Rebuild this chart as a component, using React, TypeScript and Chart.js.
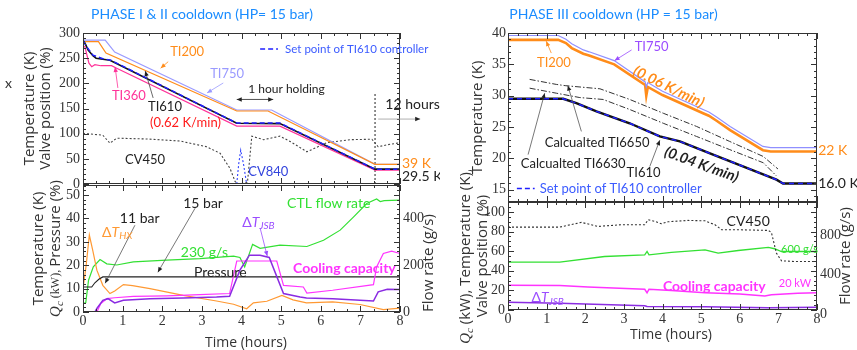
import React, { useEffect, useRef } from "react";
import { Chart, registerables } from "chart.js";
Chart.register(...registerables);

// ================= DATA =================
// Panel A : Phase I & II (temperature K / valve %)
const A_TI750_T = [0, 0.56, 0.8, 3.88, 4.76, 7.37, 8];
const A_TI750_V = [286, 286, 262, 147, 147, 39, 39];
const A_TI200_T = [0, 0.39, 0.58, 3.88, 4.67, 7.37, 8];
const A_TI200_V = [283, 283, 260, 145, 145, 39, 39];
const A_TI610_T = [0, 0.05, 0.13, 0.25, 0.33, 0.5, 0.68, 3.88, 4.97, 7.37, 8];
const A_TI610_V = [285, 280, 266, 255, 250, 248, 246, 120.6, 120, 29.5, 29.5];
const A_SP_T = [0, 0.1, 0.25, 0.5, 0.7, 3.88, 4.97, 7.37, 8];
const A_SP_V = [285, 272, 256, 249, 246, 121, 121, 29.5, 29.5];
const A_TI360_T = [0, 0.05, 0.15, 0.22, 0.3, 0.45, 0.72, 0.85, 3.88, 4.97, 7.37, 8];
const A_TI360_V = [275, 272, 240, 233, 237, 235, 235, 230, 115, 115, 27.5, 27.5];
const A_CV450_T = [0, 0.5, 0.68, 0.85, 1.6, 2.45, 3.12, 3.46, 3.71, 3.84, 3.92, 4.15, 4.26, 4.56, 4.97, 5.24, 5.65, 6.15, 6.74, 7.29, 7.45, 7.68, 8];
const A_CV450_V = [100.7, 97, 81, 91, 89.5, 85.4, 74, 61, 31, 4.6, 0, 3, 95, 88, 95, 84, 64, 82, 88, 89, 74, 78, 82];
const A_CV840_T = [3.88, 3.93, 3.98, 4.05, 4.13];
const A_CV840_V = [0, 40, 67, 40, 0];
const A_MARK_T = [7.37, 7.37];
const A_MARK_V = [0, 183];
const A_YTICKS = [0, 50, 100, 150, 200, 250, 300];

// Panel B : Phase I & II (dT, Qc, pressure / flow)
const B_P_T = [0, 0.22, 0.3, 0.4, 0.5, 8];
const B_P_V = [10.7, 10.7, 12.5, 14, 15, 15];
const B_HX_T = [0, 0.08, 0.16, 0.25, 0.35, 0.5, 0.68, 0.8, 1.02, 1.25, 1.69, 2.53, 3.37, 3.8, 4.13, 4.3, 4.64, 5.02, 5.3, 5.64, 6.3, 6.99, 7.58, 8];
const B_HX_V = [10, 20, 32.9, 26, 17.9, 11.4, 7.9, 9, 11.7, 11.3, 10, 7.1, 4.7, 3.3, 1.4, 3.9, 4.6, 7.1, 5.2, 3.9, 4.3, 3.2, 1.0, 1.7];
const B_FLOW_T = [0, 0.07, 0.14, 0.26, 0.43, 0.6, 0.85, 1.27, 2.11, 2.95, 3.8, 3.96, 4.08, 4.28, 4.47, 4.97, 5.65, 6.07, 6.49, 6.83, 7.16, 7.41, 7.5, 7.6, 8];
const B_FLOW_V = [36, 40, 136, 193, 224, 206, 201, 214, 222, 228, 239, 233, 193, 289, 272, 286, 280, 307, 350, 407, 464, 483, 472, 476, 478];
const B_JSB_T = [0, 0.3, 0.35, 0.5, 0.63, 0.8, 1.02, 1.69, 2.53, 3.37, 3.7, 3.96, 4.2, 4.47, 4.7, 5.06, 5.48, 5.64, 6.3, 7.33, 7.45, 7.68, 8];
const B_JSB_V = [0, 0, 1.5, 5, 5.7, 3.9, 5, 5.7, 6, 6.4, 6.7, 17.9, 24.3, 24.3, 23.3, 7.9, 6.4, 6, 5.7, 4.7, 8.6, 9.7, 9.6];
const B_QC_T = [0, 0.35, 0.45, 0.6, 0.8, 1.27, 2.11, 2.95, 3.7, 3.88, 4.89, 5.06, 5.56, 5.65, 6.3, 7.33, 7.41, 7.58, 7.79, 8];
const B_QC_V = [0, 0, 3.6, 5.7, 6.1, 6.7, 6.9, 7.4, 7.9, 21.8, 21.8, 11.4, 10.7, 8.1, 9.3, 11.7, 19.3, 25, 26, 25];
const B_YTICKS = [0, 10, 20, 30, 40, 50];
const B_Y2TICKS = [0, 200, 400];

// Panel C : Phase III temperatures
const C_TI750_T = [0, 1.3, 1.5, 1.65, 1.95, 2.1, 2.75, 3.55, 3.58, 3.62, 4.0, 5.05, 5.2, 5.4, 5.75, 6.6, 6.8, 8];
const C_TI750_V = [39.6, 39.6, 39.0, 38.3, 37.3, 37.0, 35.6, 32.2, 31.4, 32.1, 30.7, 27.8, 27.4, 26.6, 25.1, 21.9, 21.7, 21.7];
const C_TI200_T = [0, 1.3, 1.5, 1.65, 1.95, 2.1, 2.75, 3.55, 3.58, 3.62, 4.0, 5.05, 5.2, 5.4, 5.75, 6.6, 6.8, 8];
const C_TI200_V = [38.9, 38.9, 38.4, 37.6, 36.7, 36.4, 35.0, 31.7, 30.0, 31.4, 30.1, 27.2, 26.8, 26.0, 24.5, 21.3, 21.1, 21.1];
const C_TI610_T = [0, 1.43, 1.77, 2.29, 3.15, 3.93, 4.45, 5.31, 6.18, 6.95, 7.12, 8];
const C_TI610_V = [29.5, 29.5, 28.8, 27.5, 25.6, 23.5, 22.7, 20.6, 18.5, 16.6, 16.0, 16.0];
const C_SP_T = [0, 1.43, 1.77, 2.29, 3.15, 3.93, 4.45, 5.31, 6.18, 6.95, 7.12, 8];
const C_SP_V = [29.5, 29.5, 28.8, 27.5, 25.6, 23.5, 22.7, 20.6, 18.5, 16.6, 16.0, 16.0];
const C_T6650_T = [0.56, 1.25, 1.48, 2.38, 3.15, 4.02, 4.88, 5.74, 6.61, 6.99];
const C_T6650_V = [32.6, 31.8, 31.6, 31.1, 29.4, 27.2, 25.1, 22.7, 20.3, 18.3];
const C_T6630_T = [0.56, 1.25, 1.86, 2.46, 3.15, 4.02, 4.88, 5.74, 6.61, 6.95];
const C_T6630_V = [31.2, 30.4, 29.7, 29.4, 27.8, 25.6, 23.5, 21.4, 19.3, 17.2];
const C_YTICKS = [15, 20, 25, 30, 35, 40];

// Panel D : Phase III valve / Qc / dT / flow
const D_CV450_T = [0, 1.34, 1.9, 2.33, 2.94, 3.54, 3.63, 3.8, 3.97, 4.14, 4.66, 5.1, 5.36, 5.53, 5.96, 6.74, 6.82, 6.95, 7.08, 7.43, 8];
const D_CV450_V = [84.6, 84.6, 89.4, 85.3, 87, 87, 92.1, 90.5, 88, 90, 91.4, 91, 87, 81.9, 81.9, 81.2, 79, 58, 50.2, 49.5, 49.5];
const D_FLOW_T = [0, 1.34, 2.5, 3.54, 3.6, 3.65, 4.23, 5.1, 5.44, 5.96, 6.74, 6.9, 7.08, 8];
const D_FLOW_V = [488, 488, 546, 563, 597, 563, 587, 614, 580, 607, 638, 625, 597, 597];
const D_QC_T = [0, 1.34, 2.07, 3.54, 3.6, 3.65, 4.23, 5.1, 6.0, 6.65, 6.82, 7.5, 8];
const D_QC_V = [25.3, 25, 23.5, 21.2, 17.5, 21.2, 19.8, 17.7, 16.2, 14.3, 15.5, 17.2, 17.7];
const D_JSB_T = [0, 1.34, 3.54, 3.6, 5.1, 6.74, 8];
const D_JSB_V = [7.8, 6.8, 4.4, 3.5, 3.4, 2.4, 2.7];
const D_YTICKS = [0, 20, 40, 60, 80, 100];
const D_Y2TICKS = [0, 400, 800];

const X_TICKS = [0, 1, 2, 3, 4, 5, 6, 7, 8];

// ================= STYLE =================
const SERIF = '"Liberation Serif", "DejaVu Serif", serif';
const SANS = 'Lato, "Liberation Sans", sans-serif';
const TSANS = '"Open Sans", "Noto Sans", sans-serif';
const TITLE_BLUE = "#1a8cff";
const ORANGE = "#ff8c1a";
const LAV = "#9a9aff";
const PINK = "#ff3399";
const RED = "#ff1a1a";
const SP_BLUE = "#1f1fff";
const TXT_BLUE = "#3b5bff";
const GREEN = "#33e033";
const PURPLE = "#8a2be2";
const PURPLE_T = "#9b4dff";
const MAGENTA = "#ff33ff";
const INK = "#222";

Chart.defaults.font.family = SERIF;
Chart.defaults.font.size = 14;

type Seg = { s: string; f: string; dy?: number };
function rich(ctx: any, segs: Seg[], x: number, y: number, color: string, align = "left", rot = 0) {
  ctx.save();
  ctx.translate(x, y);
  ctx.rotate(rot);
  ctx.fillStyle = color;
  ctx.textBaseline = "middle";
  ctx.textAlign = "left";
  let w = 0;
  for (const g of segs) { ctx.font = g.f; w += ctx.measureText(g.s).width; }
  let cx = align === "center" ? -w / 2 : align === "right" ? -w : 0;
  for (const g of segs) {
    ctx.font = g.f;
    ctx.fillText(g.s, cx, g.dy || 0);
    cx += ctx.measureText(g.s).width;
  }
  ctx.restore();
}
const T = (ctx: any, s: string, x: number, y: number, color: string, f: string, align = "left", rot = 0) =>
  rich(ctx, [{ s, f }], x, y, color, align, rot);

function arrow(ctx: any, x1: number, y1: number, x2: number, y2: number, color: string, head = color, both = false, lw = 0.8) {
  ctx.save();
  ctx.strokeStyle = color;
  ctx.lineWidth = lw;
  ctx.setLineDash([]);
  ctx.beginPath();
  ctx.moveTo(x1, y1);
  ctx.lineTo(x2, y2);
  ctx.stroke();
  const h = (xa: number, ya: number, xb: number, yb: number) => {
    const a = Math.atan2(yb - ya, xb - xa);
    const L = 5, W = 2.2;
    ctx.beginPath();
    ctx.moveTo(xb, yb);
    ctx.lineTo(xb - L * Math.cos(a) + W * Math.sin(a), yb - L * Math.sin(a) - W * Math.cos(a));
    ctx.lineTo(xb - L * Math.cos(a) - W * Math.sin(a), yb - L * Math.sin(a) + W * Math.cos(a));
    ctx.closePath();
    ctx.fillStyle = head;
    ctx.fill();
  };
  h(x1, y1, x2, y2);
  if (both) h(x2, y2, x1, y1);
  ctx.restore();
}

function dashSample(ctx: any, x1: number, x2: number, y: number) {
  ctx.save();
  ctx.strokeStyle = SP_BLUE;
  ctx.lineWidth = 1.5;
  ctx.setLineDash([5, 3]);
  ctx.beginPath();
  ctx.moveTo(x1, y);
  ctx.lineTo(x2, y);
  ctx.stroke();
  ctx.restore();
}

const pts = (t: number[], v: number[]) => t.map((x, i) => ({ x, y: v[i] }));
function ds(t: number[], v: number[], color: string, width: number, dash: number[] = [], yAxisID = "y") {
  return {
    data: pts(t, v), borderColor: color, backgroundColor: color, borderWidth: width,
    borderDash: dash, pointRadius: 0, tension: 0, fill: false, yAxisID,
  };
}

const tickFont = { family: SERIF, size: 14, weight: "normal" };
function yScale(min: number, max: number, ticks: number[], width: number, position = "left", extra: any = {}) {
  return {
    type: "linear", position, min, max,
    grid: { display: false, drawTicks: false }, border: { display: false },
    ticks: { font: tickFont, color: "#333", padding: 3, ...extra },
    afterBuildTicks: (s: any) => { s.ticks = ticks.map((v) => ({ value: v })); },
    afterFit: (s: any) => { s.width = width; },
  };
}
function xScale(show: boolean, height = 0) {
  if (!show) return { type: "linear", min: 0, max: 8, display: false };
  return {
    type: "linear", min: 0, max: 8,
    grid: { display: false, drawTicks: false }, border: { display: false },
    ticks: { font: tickFont, color: "#333", padding: 1 },
    afterBuildTicks: (s: any) => { s.ticks = X_TICKS.map((v) => ({ value: v })); },
    afterFit: (s: any) => { s.height = height; },
  };
}

type Spec = { xMinor: number; yMajor: number; yMinor: number; draw: (ctx: any, X: (t: number) => number, Y: (v: number) => number, a: any) => void };

function framePlugin(spec: Spec) {
  return {
    id: "frame",
    afterDraw(chart: any) {
      const { ctx, chartArea: a, scales } = chart;
      const xs = scales.x, ys = scales.y;
      ctx.save();
      ctx.strokeStyle = "#333";
      ctx.lineWidth = 1;
      ctx.setLineDash([]);
      ctx.strokeRect(Math.round(a.left) + 0.5, Math.round(a.top) + 0.5, Math.round(a.right - a.left) - 1, Math.round(a.bottom - a.top) - 1);
      ctx.beginPath();
      const nx = Math.round(8 / spec.xMinor);
      for (let k = 0; k <= nx; k++) {
        const t = k * spec.xMinor;
        const px = Math.round(xs.getPixelForValue(t)) + 0.5;
        const major = Math.abs(t - Math.round(t)) < 1e-6;
        const L = major ? 6 : 3;
        ctx.moveTo(px, a.bottom); ctx.lineTo(px, a.bottom - L);
        ctx.moveTo(px, a.top); ctx.lineTo(px, a.top + L);
      }
      const start = Math.ceil(ys.min / spec.yMinor - 1e-9) * spec.yMinor;
      for (let v = start; v <= ys.max + 1e-9; v += spec.yMinor) {
        const py = Math.round(ys.getPixelForValue(v)) + 0.5;
        const r = v / spec.yMajor;
        const major = Math.abs(r - Math.round(r)) < 1e-6;
        const L = major ? 6 : 3;
        ctx.moveTo(a.left, py); ctx.lineTo(a.left + L, py);
        ctx.moveTo(a.right, py); ctx.lineTo(a.right - L, py);
      }
      ctx.stroke();
      const X = (t: number) => xs.getPixelForValue(t);
      const Y = (v: number) => ys.getPixelForValue(v);
      spec.draw(ctx, X, Y, a);
      ctx.restore();
    },
  };
}

function baseConfig(datasets: any[], scales: any, padding: any, spec: Spec) {
  return {
    type: "line",
    data: { datasets },
    options: {
      responsive: false, animation: false, events: [],
      layout: { padding },
      plugins: { legend: { display: false }, tooltip: { enabled: false } },
      scales,
    },
    plugins: [framePlugin(spec)],
  };
}

const F = (px: number, extra = "") => `${extra} ${px}px ${SANS}`.trim();
const FT = (px: number) => `${px}px ${TSANS}`;
const R90 = -Math.PI / 2;

// ================= PANELS =================
function configA() {
  const datasets = [
    ds(A_SP_T, A_SP_V, SP_BLUE, 1.5, [5, 3]),
    ds(A_TI610_T, A_TI610_V, "#111", 1.6),
    ds(A_TI360_T, A_TI360_V, PINK, 1.2),
    ds(A_TI200_T, A_TI200_V, ORANGE, 1.2),
    ds(A_TI750_T, A_TI750_V, LAV, 1.2),
    ds(A_CV840_T, A_CV840_V, "#3344ff", 1.1, [2, 2]),
    ds(A_CV450_T, A_CV450_V, "#444", 1.1, [2, 2]),
    ds(A_MARK_T, A_MARK_V, "#222", 1, [2, 2]),
  ];
  const scales = { x: xScale(false), y: yScale(0, 300, A_YTICKS, 83) };
  const spec: Spec = {
    xMinor: 1 / 3, yMajor: 50, yMinor: 10,
    draw: (ctx, X, Y, a) => {
      const cy = (a.top + a.bottom) / 2;
      T(ctx, "PHASE I & II cooldown (HP= 15 bar)", 202, 14, TITLE_BLUE, F(14), "center");
      T(ctx, "Temperature (K)", 30, cy, "#333", FT(15), "center", R90);
      T(ctx, "Valve position (%)", 46, cy, "#333", FT(15), "center", R90);
      T(ctx, "x", X(-1.97), Y(198.8), "#333", F(14));
      T(ctx, "TI200", X(2.2), Y(262.4), ORANGE, F(13));
      arrow(ctx, X(2.15), Y(243), X(1.96), Y(230), ORANGE);
      T(ctx, "TI750", X(3.21), Y(218.6), LAV, F(13));
      arrow(ctx, X(3.54), Y(200.7), X(3.13), Y(181), LAV);
      T(ctx, "TI360", X(0.73), Y(175), PINK, F(13));
      arrow(ctx, X(0.88), Y(190.8), X(0.81), Y(232.5), PINK);
      T(ctx, "TI610", X(1.64), Y(153), INK, F(13));
      arrow(ctx, X(1.77), Y(171), X(1.57), Y(224.5), "#444", INK);
      T(ctx, "(0.62 K/min)", X(1.69), Y(121), RED, F(13));
      T(ctx, "CV450", X(1.06), Y(47.7), INK, F(13));
      T(ctx, "CV840", X(4.17), Y(23.8), "#3344dd", F(13));
      dashSample(ctx, X(4.47), X(4.92), Y(268));
      T(ctx, "Set point of TI610 controller", X(5.1), Y(268), TXT_BLUE, F(11.5));
      T(ctx, "1 hour holding", X(4.17), Y(189), INK, F(12));
      arrow(ctx, X(3.88), Y(168), X(4.8), Y(168), INK, INK, true);
      T(ctx, "12 hours", X(7.63), Y(157), INK, F(14));
      arrow(ctx, X(7.45), Y(129), X(8.51), Y(129), "#999", INK);
      T(ctx, "39 K", X(8.05), Y(41.7), ORANGE, F(14));
      T(ctx, "29.5 K", X(8.05), Y(15.9), INK, F(14));
    },
  };
  return baseConfig(datasets, scales, { left: 0, top: 33, right: 40, bottom: 16 }, spec);
}

function configB() {
  const datasets = [
    ds(B_JSB_T, B_JSB_V, PURPLE, 1.5),
    ds(B_QC_T, B_QC_V, MAGENTA, 1.2),
    ds(B_P_T, B_P_V, "#222", 1.1),
    ds(B_HX_T, B_HX_V, "#ff9933", 1.2),
    ds(B_FLOW_T, B_FLOW_V, GREEN, 1.2, [], "y2"),
  ];
  const scales = {
    x: xScale(true, 38),
    y: yScale(0, 54.3, B_YTICKS, 83),
    y2: yScale(0, 543, B_Y2TICKS, 40, "right"),
  };
  const spec: Spec = {
    xMinor: 1 / 3, yMajor: 10, yMinor: 2,
    draw: (ctx, X, Y, a) => {
      const cy = (a.top + a.bottom) / 2;
      T(ctx, "Temperature (K)", 39, cy, "#333", FT(15), "center", R90);
      rich(ctx, [
        { s: "Q", f: `italic 15px ${SERIF}` },
        { s: "c", f: `italic 11px ${SERIF}`, dy: 4 },
        { s: " (kW), ", f: `12px ${SERIF}` },
        { s: "Pressure (%)", f: FT(15) },
      ], 56, cy, "#333", "center", R90);
      T(ctx, "Flow rate (g/s)", 429, 93, "#333", FT(15), "center", R90);
      T(ctx, "Time (hours)", 246, 173, "#333", FT(14), "center");
      T(ctx, "15 bar", X(2.53), Y(46.6), INK, F(14));
      arrow(ctx, X(2.83), Y(44.4), X(1.89), Y(17.0), "#555", INK);
      T(ctx, "11 bar", X(0.93), Y(40.1), INK, F(14));
      arrow(ctx, X(1.31), Y(37.1), X(0.56), Y(12.3), "#555", INK);
      rich(ctx, [
        { s: "Δ", f: F(14) },
        { s: "T", f: F(14, "italic") },
        { s: "HX", f: F(10, "italic"), dy: 4 },
      ], X(0.48), Y(34.1), "#ff9933");
      T(ctx, "230 g/s", X(2.47), Y(25.6), GREEN, F(14));
      T(ctx, "Pressure", X(2.8), Y(17.0), INK, F(14));
      T(ctx, "CTL flow rate", X(5.15), Y(46.6), GREEN, F(14));
      rich(ctx, [
        { s: "Δ", f: F(14) },
        { s: "T", f: F(14, "italic") },
        { s: "JSB", f: F(10, "italic"), dy: 4 },
      ], X(4.02), Y(38.4), PURPLE_T);
      arrow(ctx, X(4.47), Y(35.9), X(4.65), Y(23.9), PURPLE_T);
      T(ctx, "Cooling capacity", X(5.3), Y(18.7), MAGENTA, F(14, "bold"));
    },
  };
  return baseConfig(datasets, scales, { left: 0, top: 15, right: 0, bottom: 0 }, spec);
}

function configC() {
  const datasets = [
    ds(C_SP_T, C_SP_V, SP_BLUE, 1.5, [5, 4]),
    ds(C_TI610_T, C_TI610_V, "#111", 2.4),
    ds(C_T6650_T, C_T6650_V, "#333", 1, [6, 2, 1.5, 2]),
    ds(C_T6630_T, C_T6630_V, "#333", 1, [6, 2, 1.5, 2]),
    ds(C_TI750_T, C_TI750_V, "#8f8fff", 1.2),
    ds(C_TI200_T, C_TI200_V, ORANGE, 2.6),
  ];
  const scales = { x: xScale(false), y: yScale(13.04, 40, C_YTICKS, 78, "left", { padding: 2 }) };
  const spec: Spec = {
    xMinor: 0.25, yMajor: 5, yMinor: 1,
    draw: (ctx, X, Y, a) => {
      const cy = (a.top + a.bottom) / 2;
      T(ctx, "PHASE III cooldown (HP = 15 bar)", 183.5, 14, TITLE_BLUE, F(14), "center");
      T(ctx, "Temperature (K)", 48, cy, "#333", FT(15), "center", R90);
      T(ctx, "TI750", X(3.28), Y(37.8), PURPLE_T, F(13));
      arrow(ctx, X(3.2), Y(37.3), X(2.76), Y(35.6), PURPLE_T);
      T(ctx, "TI200", X(0.75), Y(35.3), ORANGE, F(13));
      arrow(ctx, X(1.12), Y(36.8), X(0.99), Y(38.7), ORANGE);
      T(ctx, "(0.06 K/min)", X(4.16), Y(31.4), ORANGE, F(14.5, "italic bold"), "center", (26 * Math.PI) / 180);
      T(ctx, "Calcualted TI6650", X(0.95), Y(22.5), INK, F(13));
      arrow(ctx, X(1.9), Y(24.3), X(1.55), Y(31.6), "#555", INK);
      T(ctx, "Calcualted TI6630", X(0.33), Y(19.1), INK, F(13));
      arrow(ctx, X(0.52), Y(20.6), X(0.95), Y(30.4), "#555", INK);
      T(ctx, "TI610", X(3.07), Y(17.7), INK, F(13));
      arrow(ctx, X(3.67), Y(18.7), X(3.93), Y(22.9), "#555", INK);
      T(ctx, "(0.04 K/min)", X(5.01), Y(19.0), INK, F(14.5, "italic bold"), "center", (20 * Math.PI) / 180);
      T(ctx, "22 K", X(8.03), Y(21.2), ORANGE, F(14));
      T(ctx, "16.0 K", X(8.03), Y(16.0), INK, F(14));
      dashSample(ctx, X(0.23), X(0.69), Y(15.2));
      T(ctx, "Set point of TI610 controller", X(0.82), Y(15.2), TXT_BLUE, F(13));
    },
  };
  return baseConfig(datasets, scales, { left: 0, top: 33, right: 40, bottom: 13 }, spec);
}

function configD() {
  const datasets = [
    ds(D_JSB_T, D_JSB_V, PURPLE, 1.5),
    ds(D_QC_T, D_QC_V, MAGENTA, 1.5),
    ds(D_CV450_T, D_CV450_V, "#333", 1.1, [2, 2]),
    ds(D_FLOW_T, D_FLOW_V, GREEN, 1.3, [], "y2"),
  ];
  const scales = {
    x: xScale(true, 40),
    y: yScale(0, 110.2, D_YTICKS, 78),
    y2: yScale(0, 1102, D_Y2TICKS, 40, "right", { labelOffset: 4 }),
  };
  const spec: Spec = {
    xMinor: 0.25, yMajor: 20, yMinor: 5,
    draw: (ctx, X, Y, a) => {
      const cy = (a.top + a.bottom) / 2;
      rich(ctx, [
        { s: "Q", f: `italic 15px ${SERIF}` },
        { s: "c", f: `italic 11px ${SERIF}`, dy: 4 },
        { s: " (kW), Temperature (K),", f: FT(15) },
      ], 36, cy, "#333", "center", R90);
      T(ctx, "Valve position (%)", 53, cy, "#333", FT(15), "center", R90);
      T(ctx, "Flow rate (g/s)", 416, cy, "#333", FT(15), "center", R90);
      T(ctx, "Time (hours)", 241, 165, "#333", FT(14), "center");
      T(ctx, "CV450", X(5.66), Y(90.1), INK, F(14));
      T(ctx, "600 g/s", X(7.07), Y(61.4), GREEN, F(11));
      T(ctx, "Cooling capacity", X(4.01), Y(23.5), MAGENTA, F(14, "bold"));
      T(ctx, "20 kW", X(7.01), Y(26.6), MAGENTA, F(11));
      rich(ctx, [
        { s: "Δ", f: F(14) },
        { s: "T", f: F(14, "italic") },
        { s: "JSB", f: F(10, "italic"), dy: 4 },
      ], X(0.61), Y(12.3), PURPLE_T);
    },
  };
  return baseConfig(datasets, scales, { left: 0, top: 32, right: 0, bottom: 0 }, spec);
}

function Panel({ left, top, width, height, make }: any) {
  const ref = useRef<HTMLCanvasElement>(null);
  useEffect(() => {
    const chart = new Chart(ref.current as any, make() as any);
    return () => chart.destroy();
  }, []);
  return (
    <div style={{ position: "absolute", left, top, width, height }}>
      <canvas ref={ref} width={width} height={height} style={{ width, height, display: "block" }} />
    </div>
  );
}

export default function App() {
  return (
    <div style={{ position: "absolute", left: 0, top: 0, width: 857, height: 350, background: "#fff", overflow: "hidden" }}>
      <Panel left={0} top={0} width={440} height={200} make={configA} />
      <Panel left={0} top={170} width={440} height={180} make={configB} />
      <Panel left={430} top={0} width={427} height={215} make={configC} />
      <Panel left={430} top={170} width={427} height={180} make={configD} />
    </div>
  );
}
